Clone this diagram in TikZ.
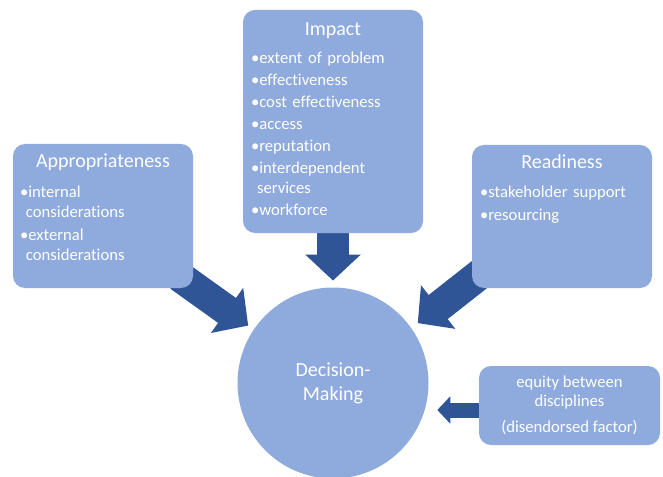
\documentclass[tikz,border=0pt]{standalone}
\usepackage{fontspec}
\setmainfont{Carlito}[Ligatures=CommonOff]
\usetikzlibrary{arrows.meta,positioning,backgrounds}

\definecolor{boxblue}{HTML}{8FAADC}
\definecolor{arrowblue}{HTML}{2F5597}

% one bullet line, wrapped lines hang under the text
\newcommand\bitem[1]{\par\hangindent=0.36em\hangafter=1\noindent\textbullet#1}

\tikzset{
  box/.style={fill=boxblue, rounded corners=9pt, minimum width=135pt, inner sep=0pt},
  boxtitle/.style={text=white, inner sep=0pt, font=\fontsize{15}{18}\selectfont},
  bullets/.style={text=white, anchor=north west, inner sep=0pt, text width=125pt, align=left,
    font=\fontsize{12.5}{15}\selectfont\setlength{\parskip}{1.5pt}},
  bigarrow/.style={draw=arrowblue, line width=23pt, -{Triangle[length=19.5pt, width=40.5pt]}},
  flatarrow/.style={draw=arrowblue, line width=11.25pt, -{Triangle[length=9.75pt, width=20pt]}}
}

\begin{document}
\begin{tikzpicture}[x=0.75pt, y=-0.75pt]
  \useasboundingbox (0,0) rectangle (663,477);

  % the four boxes
  \node[box, minimum height=167.25pt] (impact) at (333,121.5) {};
  \node[box, minimum height=108pt] (approp) at (103,216) {};
  \node[box, minimum height=107.25pt] (readiness) at (562,216.5) {};
  \node[box, minimum width=135.75pt, minimum height=59.25pt] (equity) at (569.5,405.5) {};

  % centre circle
  \node[circle, fill=boxblue, minimum size=143.25pt, inner sep=0pt, text=white, align=center,
    font=\fontsize{15}{18}\selectfont] (dm) at (333,383) {Decision-\\Making};

  % titles
  \node[boxtitle] (impacttitle) at ([yshift=-16pt]impact.north) {Impact};
  \node[boxtitle] (approptitle) at ([yshift=-13.5pt]approp.north) {Appropriateness};
  \node[boxtitle] (readinesstitle) at ([yshift=-12.75pt]readiness.north) {Readiness};

  % bullet lists
  \node[bullets] (impactlist) at ([shift={(8,32)}]impact.north west) {%
    \bitem{extent of problem}
    \bitem{effectiveness}
    \bitem{cost effectiveness}
    \bitem{access}
    \bitem{reputation}
    \bitem{interdependent\newline services}
    \bitem{workforce}\par};
  \node[bullets] (approplist) at ([shift={(7,32)}]approp.north west) {%
    \bitem{internal\newline considerations}
    \bitem{external\newline considerations}\par};
  \node[bullets] (readinesslist) at ([shift={(8,31)}]readiness.north west) {%
    \bitem{stakeholder support}
    \bitem{resourcing}\par};

  \node[text=white, align=center, inner sep=0pt, font=\fontsize{12.5}{14.25}\selectfont]
    (equitytext) at (equity.center) {equity between\\disciplines\\[5pt](disendorsed factor)};

  % arrows go under the boxes
  \begin{scope}[on background layer]
    \draw[bigarrow, line width=24pt, shorten >=5pt] (impact.south) -- (dm.north);
    \draw[bigarrow, shorten >=5pt] ([shift={(-14,-12)}]approp.south east) -- (dm.146);
    \draw[bigarrow, shorten >=6pt] ([shift={(17,-21)}]readiness.south west) -- (dm.35);
    \coordinate (eqtail) at ([shift={(11,4.5)}]equity.west);
    \draw[flatarrow, shorten >=6.4pt] (eqtail) -- (eqtail -| dm.east);
  \end{scope}
\end{tikzpicture}
\end{document}
